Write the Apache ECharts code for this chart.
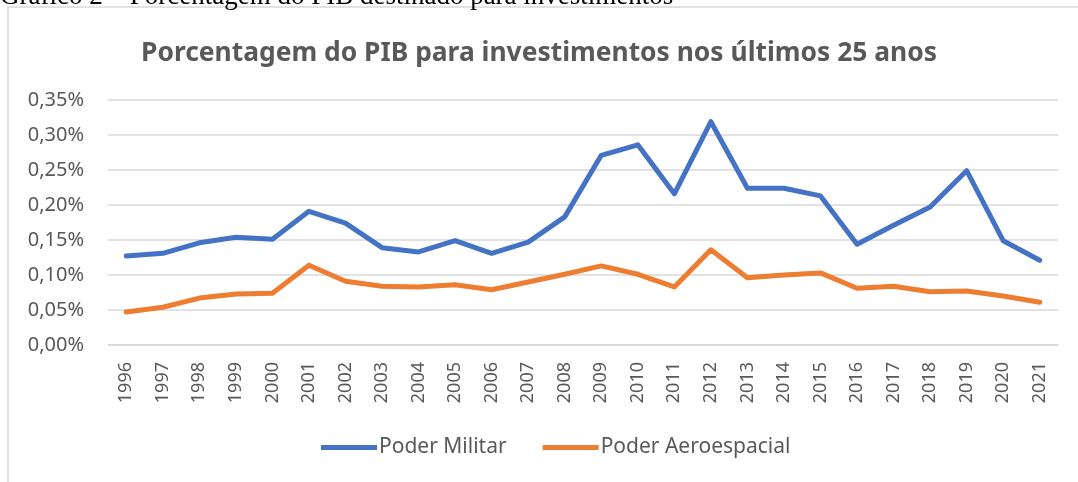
<!DOCTYPE html>
<html>
<head>
<meta charset="utf-8">
<script src="https://cdn.jsdelivr.net/npm/echarts@6/dist/echarts.min.js"></script>
<style>
  html, body { margin: 0; padding: 0; background: #fff; }
  #main { width: 1078px; height: 482px; }
</style>
</head>
<body>
<div id="main"></div>
<script>
// anos
var anos = ['1996', '1997', '1998', '1999', '2000', '2001', '2002', '2003', '2004', '2005',
            '2006', '2007', '2008', '2009', '2010', '2011', '2012', '2013', '2014', '2015',
            '2016', '2017', '2018', '2019', '2020', '2021'];
// % do PIB
var poderMilitar = [0.127, 0.131, 0.146, 0.154, 0.151, 0.191, 0.174, 0.139, 0.133, 0.149,
                    0.131, 0.147, 0.183, 0.271, 0.286, 0.216, 0.319, 0.224, 0.224, 0.213,
                    0.144, 0.171, 0.197, 0.249, 0.149, 0.121];
var poderAeroespacial = [0.047, 0.054, 0.067, 0.073, 0.074, 0.114, 0.091, 0.084, 0.083, 0.086,
                         0.079, 0.090, 0.101, 0.113, 0.101, 0.083, 0.136, 0.096, 0.100, 0.103,
                         0.081, 0.084, 0.076, 0.077, 0.070, 0.061];

var cinza = '#595959';
var myChart = echarts.init(document.getElementById('main'));

var option = {
    animation: false,
    textStyle: { fontFamily: 'Noto Sans' },
    graphic: [
        {
            type: 'rect',
            shape: { x: 8, y: 7, width: 1100, height: 500 },
            style: { fill: 'none', stroke: '#d9d9d9', lineWidth: 1.5 },
            silent: true
        },
        {
            // legenda do documento, cortada no topo
            type: 'text',
            x: 0,
            y: 10,
            style: {
                text: 'Gráfico 2 – Porcentagem do PIB destinado para investimentos',
                font: '27px "Liberation Serif"',
                fill: '#000',
                verticalAlign: 'bottom'
            }
        }
    ],
    title: {
        text: 'Porcentagem do PIB para investimentos nos últimos 25 anos',
        left: 'center',
        top: 35,
        textStyle: { color: cinza, fontSize: 26.4, fontWeight: 'bold', fontFamily: 'Noto Sans' }
    },
    legend: {
        bottom: 19,
        left: 316,
        itemWidth: 56,
        itemHeight: 5,
        itemGap: 36,
        textStyle: { color: cinza, fontSize: 21, padding: [0, 0, 0, -3] },
        data: [
            { name: 'Poder Militar', icon: 'rect' },
            { name: 'Poder Aeroespacial', icon: 'rect' }
        ]
    },
    grid: { left: 108, right: 20, top: 100, bottom: 137 },
    xAxis: {
        type: 'category',
        data: anos,
        boundaryGap: true,
        axisLine: { lineStyle: { color: '#d9d9d9', width: 1.5 } },
        axisTick: { show: false },
        axisLabel: { rotate: 90, color: cinza, fontSize: 18, margin: 17, interval: 0 }
    },
    yAxis: {
        type: 'value',
        min: 0,
        max: 0.35,
        interval: 0.05,
        axisLine: { show: false },
        axisTick: { show: false },
        splitLine: { lineStyle: { color: '#d9d9d9', width: 1.5 } },
        axisLabel: {
            color: cinza,
            fontSize: 20,
            margin: 24,
            formatter: function (v) { return v.toFixed(2).replace('.', ',') + '%'; }
        }
    },
    series: [
        {
            name: 'Poder Militar',
            type: 'line',
            data: poderMilitar,
            showSymbol: false,
            itemStyle: { color: '#4472C4' },
            lineStyle: { color: '#4472C4', width: 5, cap: 'round', join: 'round' }
        },
        {
            name: 'Poder Aeroespacial',
            type: 'line',
            data: poderAeroespacial,
            showSymbol: false,
            itemStyle: { color: '#ED7D31' },
            lineStyle: { color: '#ED7D31', width: 5, cap: 'round', join: 'round' }
        }
    ]
};
myChart.setOption(option);
</script>
</body>
</html>
